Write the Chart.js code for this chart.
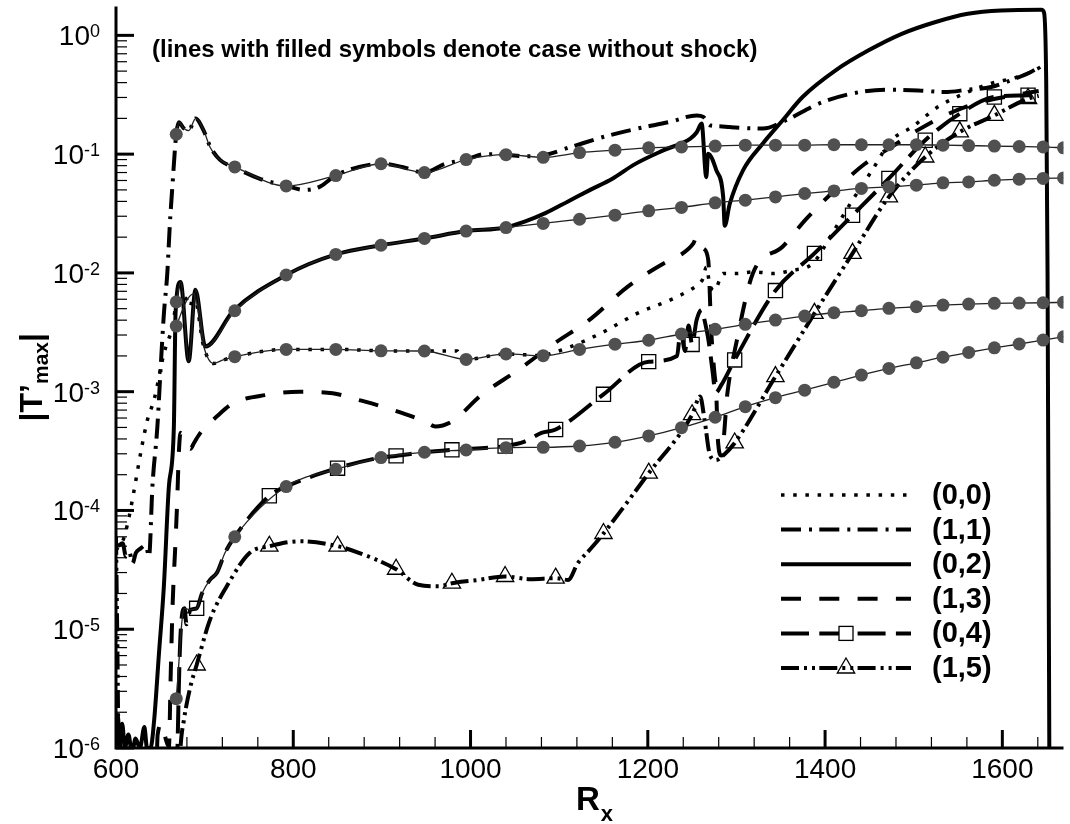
<!DOCTYPE html>
<html>
<head>
<meta charset="utf-8">
<script src="https://cdn.jsdelivr.net/npm/chart.js"></script>
<style>
  html, body { margin: 0; padding: 0; background: #fff; }
  #wrap { width: 1070px; height: 824px; position: relative; }
</style>
</head>
<body>
<div id="wrap"><canvas id="c"></canvas></div>
<script>
// ---- data ----
const xTicks = [600, 800, 1000, 1200, 1400, 1600];
const yTickExp = [-6, -5, -4, -3, -2, -1, 0];
const modes = ['(0,0)', '(1,1)', '(0,2)', '(1,3)', '(0,4)', '(1,5)'];

// cases without shock (filled circles), shared x grid
const nsX = [668, 734, 792, 848, 899, 948, 995, 1040, 1082, 1123, 1163, 1201, 1238, 1276, 1310, 1344, 1377, 1410, 1441, 1472, 1503, 1533, 1562, 1591, 1619, 1646, 1669];
const ns00 = [0.00357, 0.00197, 0.00227, 0.00227, 0.00221, 0.00220, 0.00187, 0.00208, 0.00201, 0.00227, 0.00251, 0.00271, 0.00306, 0.00335, 0.00369, 0.00401, 0.00433, 0.00462, 0.00480, 0.00503, 0.00519, 0.00536, 0.00547, 0.00554, 0.00557, 0.00561, 0.00565];
const ns11 = [0.147, 0.078, 0.054, 0.066, 0.083, 0.070, 0.090, 0.099, 0.094, 0.103, 0.108, 0.113, 0.115, 0.117, 0.119, 0.119, 0.119, 0.120, 0.120, 0.120, 0.120, 0.119, 0.118, 0.117, 0.116, 0.115, 0.113];
const ns02 = [0.0057, 0.0048, 0.0096, 0.0143, 0.0171, 0.0195, 0.0225, 0.0241, 0.0261, 0.0283, 0.0306, 0.0333, 0.0356, 0.0389, 0.0410, 0.0436, 0.0466, 0.0490, 0.0514, 0.0530, 0.0548, 0.0573, 0.0583, 0.0603, 0.0615, 0.0624, 0.0631];
const ns04 = [2.6e-6, 6.0e-5, 1.59e-4, 2.22e-4, 2.79e-4, 3.09e-4, 3.23e-4, 3.38e-4, 3.40e-4, 3.49e-4, 3.75e-4, 4.24e-4, 4.98e-4, 6.09e-4, 7.48e-4, 8.9e-4, 1.03e-3, 1.20e-3, 1.38e-3, 1.57e-3, 1.75e-3, 1.95e-3, 2.14e-3, 2.34e-3, 2.52e-3, 2.72e-3, 2.90e-3];
// points between circles near the start
const ns00InX = [680, 688, 699, 710, 721];
const ns00InY = [0.0059, 0.0067, 0.0024, 0.00173, 0.00185];
const ns11InX = [671, 676, 682, 690, 699, 706, 718];
const ns11InY = [0.186, 0.166, 0.158, 0.20, 0.158, 0.115, 0.089];
const ns02InX = [673, 682, 690, 701];
const ns02InY = [0.0084, 0.0018, 0.0072, 0.0024];
const ns04InX = [677, 684, 691, 697, 706, 714, 723];
const ns04InY = [1.5e-5, 1.46e-5, 1.5e-5, 2.0e-5, 2.6e-5, 3.0e-5, 4.4e-5];

// cases with shock
const s00X = [600, 609.3, 635.5, 642.9, 654.1, 663.5, 669.1, 675, 680.3, 683.5, 687.7, 698.9, 710.1, 721.3, 734, 792, 848, 899, 948, 985, 990, 995, 1040, 1082, 1091, 1113, 1150.6, 1188, 1225, 1248, 1256, 1262, 1266, 1270, 1275, 1285, 1300, 1320, 1341, 1362, 1386, 1408, 1431, 1453, 1475, 1498, 1527, 1557, 1587, 1617, 1640, 1646];
const s00Y = [4.6e-5, 6.0e-5, 5.8e-4, 8.5e-4, 2.1e-3, 3.5e-3, 5.9e-3, 6.3e-3, 5.9e-3, 5.2e-3, 6.7e-3, 2.4e-3, 1.73e-3, 1.85e-3, 1.97e-3, 2.27e-3, 2.27e-3, 2.21e-3, 2.20e-3, 2.2e-3, 1.9e-3, 1.87e-3, 2.08e-3, 2.01e-3, 2.1e-3, 2.39e-3, 3.2e-3, 4.56e-3, 5.9e-3, 7.2e-3, 7.9e-3, 8.9e-3, 0.0112, 7.9e-3, 7.1e-3, 9.9e-3, 0.0099, 0.0102, 0.0099, 0.0105, 0.012, 0.0215, 0.041, 0.073, 0.131, 0.169, 0.249, 0.324, 0.393, 0.446, 0.525, 0.56];

const s11X = [601.9, 607.5, 611.2, 614.9, 618.7, 622.4, 628, 633.6, 637.3, 641.1, 646.7, 650.4, 654.1, 657.9, 660.8, 663.5, 668, 670.9, 676.1, 682.1, 689.6, 698.9, 706.4, 717.6, 732.5, 762.4, 792.3, 812.8, 829.6, 847.5, 874.4, 899.3, 922.8, 948.3, 971.4, 995, 1016.2, 1039.7, 1061, 1082.3, 1113.2, 1150.6, 1187.9, 1225.2, 1255.1, 1262.6, 1270, 1281.2, 1292.4, 1329.8, 1355.9, 1393.2, 1430.5, 1467.8, 1505.1, 1535, 1561.1, 1587.3, 1609.7, 1632.1, 1641.4];
const s11Y = [5.0e-5, 5.3e-5, 4.1e-5, 4.5e-5, 3.6e-5, 4.4e-5, 4.8e-5, 5.1e-5, 4.1e-5, 1.6e-4, 5.1e-4, 1.6e-3, 4.6e-3, 0.010, 0.026, 0.052, 0.148, 0.186, 0.166, 0.158, 0.20, 0.158, 0.115, 0.089, 0.078, 0.062, 0.054, 0.050, 0.053, 0.066, 0.078, 0.083, 0.078, 0.070, 0.083, 0.090, 0.100, 0.099, 0.096, 0.098, 0.115, 0.140, 0.164, 0.187, 0.212, 0.206, 0.175, 0.172, 0.169, 0.164, 0.193, 0.267, 0.324, 0.349, 0.344, 0.333, 0.349, 0.367, 0.419, 0.491, 0.542];

const s02X = [600, 602, 604, 607, 610, 614, 618, 622, 627, 632, 635, 639, 643, 648.5, 654, 659.7, 665.3, 667.2, 672.8, 682, 689.6, 700.8, 732.5, 792, 848, 899, 948, 995, 1040, 1061, 1085, 1110, 1135, 1160, 1185, 1218, 1248, 1255, 1260.7, 1266, 1268, 1277.4, 1285, 1286.8, 1292.4, 1307.4, 1329.8, 1352.2, 1374.6, 1411.9, 1449.1, 1486.5, 1523.8, 1561.1, 1598.5, 1644, 1647, 1649.5, 1651, 1652.5, 1653.5];
const s02Y = [1.2e-6, 1.9e-6, 1.1e-6, 1.6e-6, 1.0e-6, 1.3e-6, 9e-7, 1.2e-6, 1.0e-6, 1.5e-6, 1.0e-6, 1.0e-6, 1.7e-6, 6.3e-6, 2.3e-5, 1.6e-4, 5.1e-4, 4.6e-3, 8.4e-3, 1.8e-3, 7.2e-3, 2.4e-3, 4.8e-3, 9.6e-3, 0.0143, 0.0171, 0.0195, 0.0225, 0.0241, 0.027, 0.032, 0.040, 0.050, 0.062, 0.082, 0.108, 0.135, 0.152, 0.181, 0.064, 0.101, 0.073, 0.044, 0.025, 0.038, 0.073, 0.123, 0.193, 0.303, 0.508, 0.748, 1.03, 1.29, 1.52, 1.62, 1.64, 1.56, 0.4, 0.01, 1e-5, 1e-7];

const s13X = [600, 645, 647, 652, 656, 659.7, 661.6, 663.8, 667.2, 669.1, 670.9, 672.8, 677, 681, 684, 688, 695.2, 713.9, 732.5, 769.9, 807.2, 844.5, 874.4, 907.9, 949, 960.2, 978.8, 1012.4, 1053.5, 1094.6, 1135.6, 1176.7, 1217.8, 1236.4, 1251.4, 1255.1, 1262.6, 1268.2, 1271.5, 1274.9, 1277.2, 1279, 1283, 1290, 1300, 1318.5, 1352, 1377.5, 1411, 1445, 1475, 1505, 1540, 1572, 1610, 1641];
const s13Y = [5e-7, 5e-7, 1.3e-6, 1.6e-6, 1.2e-6, 1.02e-6, 3.8e-6, 1.55e-5, 5.6e-5, 1.23e-4, 3.05e-4, 4.5e-4, 4.2e-4, 3.6e-4, 3.3e-4, 3.7e-4, 4.5e-4, 6.2e-4, 8.0e-4, 9.4e-4, 1.0e-3, 9.7e-4, 8.5e-4, 7.2e-4, 5.6e-4, 5.1e-4, 5.6e-4, 9.4e-4, 1.52e-3, 2.55e-3, 4.1e-3, 7.6e-3, 0.012, 0.0141, 0.0177, 0.0201, 0.0161, 0.0128, 3.3e-3, 1.5e-3, 9.8e-4, 4e-4, 2.9e-4, 1.0e-3, 2.6e-3, 9.9e-3, 0.0166, 0.0278, 0.0497, 0.083, 0.115, 0.16, 0.22, 0.27, 0.31, 0.34];

const s04X = [668, 669.4, 671.7, 673.9, 677.3, 679.5, 684, 691, 697, 706, 714, 723, 732.5, 773, 792, 850, 899, 916, 948, 979, 1039, 1061, 1080, 1096, 1150, 1201, 1233, 1237, 1242, 1246, 1250, 1255, 1261, 1264, 1268.5, 1273, 1276.5, 1283, 1298, 1344, 1388, 1431, 1472, 1513, 1552, 1591, 1629, 1641];
const s04Y = [3e-7, 1e-6, 5.5e-6, 1.2e-5, 1.5e-5, 1.1e-5, 1.46e-5, 1.5e-5, 2.0e-5, 2.6e-5, 3.0e-5, 4.4e-5, 5.8e-5, 1.33e-4, 1.59e-4, 2.27e-4, 2.79e-4, 2.88e-4, 3.09e-4, 3.24e-4, 3.49e-4, 3.8e-4, 4.5e-4, 4.8e-4, 9.5e-4, 1.79e-3, 2.0e-3, 3.3e-3, 2.2e-3, 3.6e-3, 2.5e-3, 4.0e-3, 4.9e-3, 4.0e-3, 2.7e-3, 1.5e-3, 9.8e-4, 1.14e-3, 1.85e-3, 7.1e-3, 0.0146, 0.0306, 0.0624, 0.131, 0.219, 0.303, 0.313, 0.32];

const s15X = [600, 601.5, 603, 604.5, 606, 670, 672.8, 676.5, 684, 691, 706, 725, 751, 773, 807, 850, 874, 916, 941, 964, 979, 1009, 1039, 1068, 1096, 1110, 1121, 1136, 1150, 1201, 1250, 1259, 1264, 1270, 1277, 1286, 1298, 1344, 1388, 1431, 1472, 1513, 1552, 1591, 1629, 1641];
const s15Y = [6e-5, 8e-6, 1.0e-6, 1.3e-6, 3e-7, 3e-7, 1.0e-6, 1.7e-6, 3.3e-6, 5.0e-6, 1.2e-5, 2.3e-5, 4.4e-5, 5.0e-5, 5.5e-5, 5.0e-5, 4.4e-5, 3.2e-5, 2.37e-5, 2.3e-5, 2.44e-5, 2.6e-5, 2.78e-5, 2.64e-5, 2.69e-5, 2.6e-5, 3.6e-5, 4.8e-5, 6.4e-5, 2.06e-4, 6.4e-4, 9.1e-4, 5.8e-4, 2.95e-4, 2.66e-4, 2.95e-4, 3.7e-4, 1.34e-3, 4.56e-3, 0.0146, 0.0437, 0.0946, 0.154, 0.212, 0.294, 0.31];

// x stations where the open squares / triangles sit
const markX = [691, 773, 850, 916, 979, 1039, 1096, 1150, 1201, 1250, 1298, 1344, 1388, 1431, 1472, 1513, 1552, 1591, 1629];

const FONT = '"Liberation Sans", Arial, Helvetica, sans-serif';

function noShock(ys, inX, inY) {
    const pts = nsX.map((x, i) => ({ x: x, y: ys[i], mark: true }));
    inX.forEach((x, i) => pts.push({ x: x, y: inY[i], mark: false }));
    pts.sort((a, b) => a.x - b.x);
    return {
        data: pts,
        borderColor: '#222',
        borderWidth: 1.3,
        pointRadius: c => (c.raw && c.raw.mark) ? 6.5 : 0,
        pointStyle: 'circle',
        pointBackgroundColor: '#505050',
        pointBorderWidth: 0,
        cubicInterpolationMode: 'monotone',
        order: 0
    };
}

function shockSet(label, xs, ys, width, dash, marker) {
    return {
        label: label,
        data: xs.map((x, i) => ({ x: x, y: ys[i] })),
        borderColor: '#000',
        borderWidth: width,
        borderDash: dash,
        pointRadius: marker ? xs.map(x => markX.includes(x) ? 10 : 0) : 0,
        pointStyle: marker || 'circle',
        pointBorderColor: '#000',
        pointBorderWidth: 1.3,
        pointBackgroundColor: 'rgba(255,255,255,0)',
        cubicInterpolationMode: 'monotone',
        order: 1,
        legendMarker: marker
    };
}

const shockSets = [
    shockSet(modes[0], s00X, s00Y, 3.5, [3.5, 8.7], null),
    shockSet(modes[1], s11X, s11Y, 4, [20, 8, 3, 7.3], null),
    shockSet(modes[2], s02X, s02Y, 4, [], null),
    shockSet(modes[3], s13X, s13Y, 4, [20, 18.3], null),
    shockSet(modes[4], s04X, s04Y, 4, [28, 10.3], 'rect'),
    shockSet(modes[5], s15X, s15Y, 4, [18, 5, 3, 5, 3, 4.3], 'triangle')
];

const decor = {
    id: 'decor',
    afterDatasetsDraw(chart) {
        const { ctx, chartArea: a, scales: { x, y } } = chart;
        ctx.save();
        ctx.strokeStyle = '#000';
        ctx.setLineDash([]);

        // axes
        ctx.lineWidth = 3;
        ctx.beginPath();
        ctx.moveTo(a.left, a.top);
        ctx.lineTo(a.left, a.bottom + 1.5);
        ctx.moveTo(a.left - 1.5, a.bottom);
        ctx.lineTo(a.right, a.bottom);
        ctx.stroke();

        // x ticks, pointing into the plot
        for (let v = 640; v <= 1660; v += 40) {
            const px = x.getPixelForValue(v);
            const major = v % 200 === 0;
            ctx.lineWidth = major ? 3 : 1.2;
            ctx.beginPath();
            ctx.moveTo(px, a.bottom);
            ctx.lineTo(px, a.bottom - (major ? 18 : 11));
            ctx.stroke();
        }
        // y ticks
        yTickExp.forEach(e => {
            const py = y.getPixelForValue(Math.pow(10, e));
            ctx.lineWidth = 3;
            ctx.beginPath();
            ctx.moveTo(a.left, py);
            ctx.lineTo(a.left + 18, py);
            ctx.stroke();
            if (e < 0) {
                ctx.lineWidth = 1.2;
                for (let k = 2; k <= 9; k++) {
                    const pm = y.getPixelForValue(k * Math.pow(10, e));
                    ctx.beginPath();
                    ctx.moveTo(a.left, pm);
                    ctx.lineTo(a.left + 11, pm);
                    ctx.stroke();
                }
            }
        });

        // legend
        shockSets.forEach((ds, i) => {
            const ry = 495 + i * 34.6;
            ctx.strokeStyle = '#000';
            ctx.lineWidth = ds.borderWidth;
            ctx.setLineDash(ds.borderDash);
            ctx.beginPath();
            ctx.moveTo(781, ry);
            ctx.lineTo(911, ry);
            ctx.stroke();
            ctx.setLineDash([]);
            if (ds.legendMarker === 'rect') {
                ctx.fillStyle = '#fff';
                ctx.lineWidth = 1.3;
                ctx.fillRect(839, ry - 7, 14, 14);
                ctx.strokeRect(839, ry - 7, 14, 14);
            } else if (ds.legendMarker === 'triangle') {
                ctx.lineWidth = 1.3;
                ctx.beginPath();
                ctx.moveTo(846, ry - 10);
                ctx.lineTo(854.7, ry + 5);
                ctx.lineTo(837.3, ry + 5);
                ctx.closePath();
                ctx.stroke();
            }
            ctx.fillStyle = '#000';
            ctx.font = 'bold 29px ' + FONT;
            ctx.textAlign = 'left';
            ctx.textBaseline = 'middle';
            ctx.fillText(ds.label, 932, ry + 1);
        });
        ctx.restore();
    },
    afterDraw(chart) {
        const { ctx, chartArea: a, scales: { x, y } } = chart;
        ctx.save();
        ctx.fillStyle = '#000';

        // x tick labels
        ctx.font = '28px ' + FONT;
        ctx.textAlign = 'center';
        ctx.textBaseline = 'alphabetic';
        xTicks.forEach(v => ctx.fillText(String(v), x.getPixelForValue(v), 778));

        // y tick labels 10^n
        ctx.textAlign = 'left';
        yTickExp.forEach(e => {
            const py = y.getPixelForValue(Math.pow(10, e));
            const sup = String(e);
            ctx.font = '18px ' + FONT;
            const ws = ctx.measureText(sup).width;
            ctx.font = '28px ' + FONT;
            const wm = ctx.measureText('10').width;
            ctx.fillText('10', 100 - ws - wm, py + 10);
            ctx.font = '18px ' + FONT;
            ctx.fillText(sup, 100 - ws, py + 2);
        });

        // x title R_x
        ctx.font = 'bold 33px ' + FONT;
        ctx.fillText('R', 576, 810);
        const wr = ctx.measureText('R').width;
        ctx.font = 'bold 22px ' + FONT;
        ctx.fillText('x', 576 + wr + 1, 821);

        // y title |T'max|
        ctx.save();
        ctx.translate(42, (a.top + a.bottom) / 2);
        ctx.rotate(-Math.PI / 2);
        const parts = [['|T\u2019', 'bold 32px ', 0], ['max', 'bold 21px ', 6], ['|', 'bold 32px ', 0]];
        let total = 0;
        parts.forEach(p => { ctx.font = p[1] + FONT; total += ctx.measureText(p[0]).width; });
        let tx = -total / 2;
        parts.forEach(p => {
            ctx.font = p[1] + FONT;
            ctx.fillText(p[0], tx, p[2]);
            tx += ctx.measureText(p[0]).width;
        });
        ctx.restore();

        // note
        ctx.font = 'bold 24px ' + FONT;
        ctx.fillText('(lines with filled symbols denote case without shock)', 152, 57);
        ctx.restore();
    }
};

const ctx = document.getElementById('c').getContext('2d');
new Chart(ctx, {
    type: 'line',
    data: {
        datasets: [
            noShock(ns00, ns00InX, ns00InY),
            noShock(ns11, ns11InX, ns11InY),
            noShock(ns02, ns02InX, ns02InY),
            noShock(ns04, ns04InX, ns04InY)
        ].concat(shockSets)
    },
    options: {
        responsive: true,
        maintainAspectRatio: false,
        animation: false,
        layout: { padding: { left: 0, right: 0, top: 6, bottom: 0 } },
        plugins: { legend: { display: false }, tooltip: { enabled: false } },
        scales: {
            x: {
                type: 'linear', min: 600, max: 1669,
                grid: { display: false }, border: { display: false },
                ticks: { display: false },
                afterFit: s => { s.height = 76; }
            },
            y: {
                type: 'logarithmic', min: 1e-6, max: 1.75,
                grid: { display: false }, border: { display: false },
                ticks: { display: false },
                afterFit: s => { s.width = 116; }
            }
        }
    },
    plugins: [decor]
});
</script>
</body>
</html>
